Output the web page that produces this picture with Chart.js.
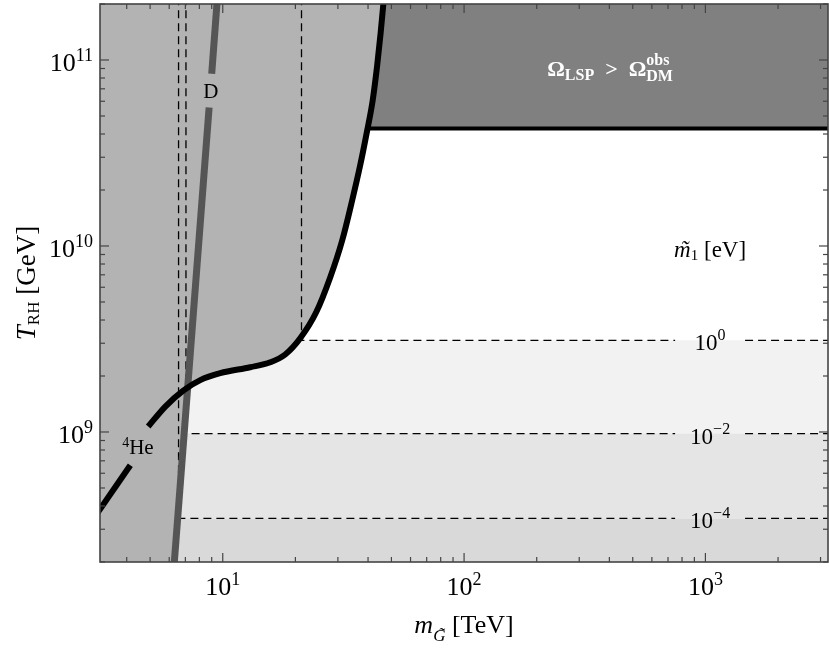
<!DOCTYPE html>
<html>
<head>
<meta charset="utf-8">
<script src="https://cdn.jsdelivr.net/npm/chart.js@4.4.1/dist/chart.umd.min.js"></script>
<style>
  html, body { margin: 0; padding: 0; background: #fff; }
  #wrap { width: 829px; height: 650px; }
</style>
</head>
<body>
<div id="wrap"><canvas id="grafico" width="829" height="650"></canvas></div>
<script>
// rangos de los ejes: m_gravitino [TeV], T_RH [GeV]
const xMin = 3.1, xMax = 3221;
const yMin = 2e8, yMax = 2e11;

// ticks principales (10^n)
const ticksX = [10, 100, 1000];
const expX = [1, 2, 3];
const ticksY = [1e9, 1e10, 1e11];
const expY = [9, 10, 11];

// curva negra (limite 4He + Omega)
const curvaX = [3.02, 4.14, 4.91, 5.78, 6.86, 8.07, 9.76, 13.0, 15.73, 18.15, 20.94, 24.39, 27.87, 31.25, 34.38, 37.10, 39.66, 41.8, 43.63, 45.11, 46.42];
const curvaY = [3.66e8, 6.63e8, 1.07e9, 1.37e9, 1.67e9, 1.90e9, 2.07e9, 2.23e9, 2.37e9, 2.61e9, 3.19e9, 4.40e9, 6.77e9, 1.07e10, 1.76e10, 2.71e10, 4.17e10, 6.05e10, 9.32e10, 1.40e11, 2.08e11];
const corteHe = 2; // hueco de la etiqueta 4He entre los indices 1 y 2

// limite Omega_LSP > Omega_DM (horizontal)
const omegaX = [40.0, 3300];
const omegaY = [4.28e10, 4.28e10];

// linea de deuterio (D), con hueco para la etiqueta
const dX1 = [3.0, 6.30, 8.78];
const dY1 = [2e8, 2e8, 5.55e10];
const dX2 = [9.00, 9.46];
const dY2 = [8.43e10, 2e11];

// contornos de m1 [eV]
const contornoExp = [0, -2, -4];
const contornoT = [3.11e9, 9.8e8, 3.43e8];
const contornoM = [21.2, 7.04, 6.56];
const huecoX = [749, 1460];
const bandasColor = ['#f2f2f2', '#e5e5e5', '#d9d9d9'];

const fuente = '"Liberation Serif", "DejaVu Serif", serif';
const f = (tam, estilo) => (estilo ? estilo + ' ' : '') + tam + 'px ' + fuente;
const pts = (xs, ys) => xs.map((x, i) => ({ x: x, y: ys[i] }));

const conjuntos = [];

// bandas grises de m1
contornoT.forEach((t, i) => {
    conjuntos.push({
        data: [{ x: 3, y: t }, { x: 3300, y: t }],
        borderWidth: 0, backgroundColor: bandasColor[i],
        fill: i < contornoT.length - 1 ? { value: contornoT[i + 1] } : 'start',
        order: 100 - i
    });
});

// region oscura Omega
conjuntos.push({ data: pts(omegaX, omegaY), borderWidth: 0, backgroundColor: '#808080', fill: 'end', order: 90 });

// region excluida gris (encima de la curva y a la izquierda de D)
conjuntos.push({ data: pts(curvaX, curvaY), borderWidth: 0, backgroundColor: '#b3b3b3', fill: 'end', cubicInterpolationMode: 'monotone', order: 80 });
conjuntos.push({ data: pts(dX1.slice(0, 2).concat(dX2.slice(1)), dY1.slice(0, 2).concat(dY2.slice(1))), borderWidth: 0, backgroundColor: '#b3b3b3', fill: 'end', order: 80 });

// contornos discontinuos
contornoT.forEach((t, i) => {
    const estilo = { borderColor: '#000', borderWidth: 1.3, borderDash: [8, 5], fill: false, order: 50 };
    conjuntos.push(Object.assign({ data: [{ x: contornoM[i], y: 3e11 }, { x: contornoM[i], y: t }, { x: huecoX[0], y: t }] }, estilo));
    conjuntos.push(Object.assign({ data: [{ x: huecoX[1], y: t }, { x: 3300, y: t }] }, estilo));
});

// linea D
conjuntos.push({ data: pts(dX1.slice(1), dY1.slice(1)), borderColor: '#555555', borderWidth: 7, fill: false, order: 40 });
conjuntos.push({ data: pts(dX2, dY2), borderColor: '#555555', borderWidth: 7, fill: false, order: 40 });

// curva negra en dos tramos + limite horizontal
conjuntos.push({ data: pts(curvaX.slice(0, corteHe), curvaY.slice(0, corteHe)), borderColor: '#000', borderWidth: 6, fill: false, order: 30 });
conjuntos.push({ data: pts(curvaX.slice(corteHe), curvaY.slice(corteHe)), borderColor: '#000', borderWidth: 6, fill: false, cubicInterpolationMode: 'monotone', order: 30 });
conjuntos.push({ data: pts(omegaX, omegaY), borderColor: '#000', borderWidth: 4, fill: false, order: 30 });

conjuntos.forEach(c => { c.pointRadius = 0; c.borderCapStyle = 'butt'; c.borderJoinStyle = 'round'; });

// texto con sub/superindices: partes = [texto, fuente, dy, tilde]
function textoRico(ctx, partes, x, y, alinear) {
    let ancho = 0;
    partes.forEach(p => { ctx.font = p[1]; ancho += ctx.measureText(p[0]).width; });
    let cx = alinear === 'center' ? x - ancho / 2 : alinear === 'right' ? x - ancho : x;
    partes.forEach(p => {
        ctx.font = p[1];
        const w = ctx.measureText(p[0]).width;
        ctx.fillText(p[0], cx, y + (p[2] || 0));
        if (p[3] !== undefined) {
            ctx.textAlign = 'center';
            ctx.fillText('\u02DC', cx + w / 2 + 2, y + (p[2] || 0) + p[3]);
            ctx.textAlign = 'left';
        }
        cx += w;
    });
}

const marco = {
    id: 'marco',
    afterDatasetsDraw(chart) {
        const { ctx, chartArea: a, scales: { x, y } } = chart;
        ctx.save();
        ctx.strokeStyle = '#444';
        ctx.lineWidth = 1.2;
        const raya = (x1, y1, x2, y2) => { ctx.beginPath(); ctx.moveTo(x1, y1); ctx.lineTo(x2, y2); ctx.stroke(); };
        for (let d = 0; d <= 3; d++) {
            for (let m = 1; m <= 9; m++) {
                const v = m * Math.pow(10, d);
                if (v < xMin || v > xMax) continue;
                const px = x.getPixelForValue(v), l = m === 1 ? 9 : 5;
                raya(px, a.bottom, px, a.bottom - l);
                raya(px, a.top, px, a.top + l);
            }
        }
        for (let d = 8; d <= 11; d++) {
            for (let m = 1; m <= 9; m++) {
                const v = m * Math.pow(10, d);
                if (v < yMin || v > yMax) continue;
                const py = y.getPixelForValue(v), l = m === 1 ? 9 : 5;
                raya(a.left, py, a.left + l, py);
                raya(a.right, py, a.right - l, py);
            }
        }
        ctx.lineWidth = 1.6;
        ctx.strokeRect(a.left, a.top, a.right - a.left, a.bottom - a.top);
        ctx.restore();
    },
    afterDraw(chart) {
        const { ctx, chartArea: a, scales: { x, y } } = chart;
        ctx.save();
        ctx.fillStyle = '#000';
        ctx.textAlign = 'left';
        ctx.textBaseline = 'alphabetic';
        const exp = e => String(e).replace('-', '\u2212');

        ticksX.forEach((v, i) => {
            textoRico(ctx, [['10', f(26)], [exp(expX[i]), f(18), -10]], x.getPixelForValue(v), a.bottom + 33, 'center');
        });
        ticksY.forEach((v, i) => {
            textoRico(ctx, [['10', f(26)], [exp(expY[i]), f(18), -10]], 93, y.getPixelForValue(v) + 11, 'right');
        });

        // titulos de los ejes
        textoRico(ctx, [['m', f(26, 'italic'), 0], ['G', f(17, 'italic'), 8, -2], [' [TeV]', f(26)]], (a.left + a.right) / 2, 633, 'center');
        ctx.save();
        ctx.translate(35, (a.top + a.bottom) / 2);
        ctx.rotate(-Math.PI / 2);
        textoRico(ctx, [['T', f(27, 'italic')], ['RH', f(17), 4], [' [GeV]', f(27)]], 0, 0, 'center');
        ctx.restore();

        // etiquetas de las curvas
        textoRico(ctx, [['D', f(21)]], x.getPixelForValue(8.93), y.getPixelForValue(6.27e10), 'center');
        textoRico(ctx, [['4', f(14), -7], ['He', f(21)]], x.getPixelForValue(4.45), y.getPixelForValue(7.59e8), 'center');

        // etiquetas de los contornos de m1
        const cx = x.getPixelForValue(1046);
        textoRico(ctx, [['m', f(23, 'italic'), 0, 0], ['1', f(15), 3], [' [eV]', f(23)]], cx, y.getPixelForValue(8.78e9), 'center');
        contornoT.forEach((t, i) => {
            textoRico(ctx, [['10', f(23)], [exp(contornoExp[i]), f(16), -10]], cx, y.getPixelForValue(t) + 10, 'center');
        });

        // Omega_LSP > Omega_DM^obs
        ctx.fillStyle = '#fff';
        let ox = x.getPixelForValue(221);
        const oy = y.getPixelForValue(8.24e10);
        const partes = [['\u03A9', f(22, 'bold'), 0], ['LSP', f(16, 'bold'), 4], ['  >  ', f(22, 'bold'), 0], ['\u03A9', f(22, 'bold'), 0]];
        partes.forEach(p => { ctx.font = p[1]; ctx.fillText(p[0], ox, oy + p[2]); ox += ctx.measureText(p[0]).width; });
        ctx.font = f(16, 'bold');
        ctx.fillText('DM', ox, oy + 5);
        ctx.fillText('obs', ox, oy - 11);
        ctx.restore();
    }
};

new Chart(document.getElementById('grafico'), {
    type: 'line',
    data: { datasets: conjuntos },
    options: {
        responsive: false,
        animation: false,
        events: [],
        layout: { padding: { top: 4, right: 1, left: 0, bottom: 0 } },
        plugins: { legend: { display: false }, tooltip: { enabled: false } },
        scales: {
            x: {
                type: 'logarithmic', min: xMin, max: xMax,
                ticks: { display: false }, grid: { display: false }, border: { display: false },
                afterFit: s => { s.height = 88; }
            },
            y: {
                type: 'logarithmic', min: yMin, max: yMax,
                ticks: { display: false }, grid: { display: false }, border: { display: false },
                afterFit: s => { s.width = 100; }
            }
        }
    },
    plugins: [marco]
});
</script>
</body>
</html>
